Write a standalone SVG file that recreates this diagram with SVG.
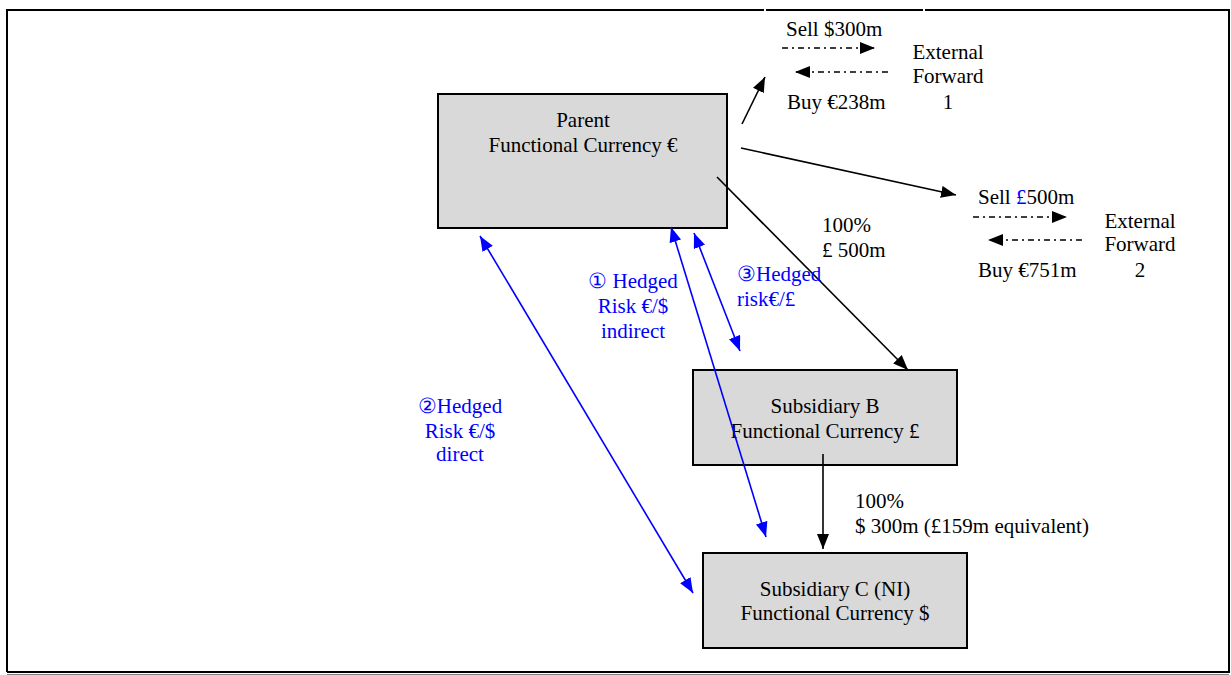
<svg xmlns="http://www.w3.org/2000/svg" width="1231" height="675" viewBox="0 0 1231 675">
<style>
text{font-family:"Liberation Serif","Times New Roman",serif;font-size:21px;fill:#000}
.b{fill:#0000ff}
.c{text-anchor:middle}
.box{fill:#d9d9d9;stroke:#000;stroke-width:2}
.k{stroke:#000;stroke-width:1.6;fill:none}
.bl{stroke:#0000ff;stroke-width:1.6;fill:none}
.dd{stroke:#000;stroke-width:1.5;stroke-dasharray:6 4 2 4;fill:none}
.frame{stroke:#000;stroke-width:2;fill:none}
</style>
<defs>
<marker id="ak" markerUnits="userSpaceOnUse" markerWidth="15" markerHeight="12" refX="15" refY="6" orient="auto-start-reverse"><path d="M0,0 L15,6 L0,12 z" fill="#000"/></marker>
<marker id="ab" markerUnits="userSpaceOnUse" markerWidth="15" markerHeight="12" refX="15" refY="6" orient="auto-start-reverse"><path d="M0,0 L15,6 L0,12 z" fill="#0000ff"/></marker>
</defs>
<rect width="1231" height="675" fill="#fff"/>
<g id="frame">
<path class="frame" d="M7,672 V10 H764 M766,10 H923 M925,10 H1229 V672 H7"/>
<path d="M7,675 H1229" stroke="#000" stroke-width="1"/>
</g>
<g id="parent">
<rect class="box" x="438" y="94" width="289" height="134"/>
<text class="c" x="583" y="127">Parent</text>
<text class="c" x="583" y="152">Functional Currency €</text>
</g>
<g id="subB">
<rect class="box" x="693" y="370" width="264" height="95"/>
<text class="c" x="825" y="413">Subsidiary B</text>
<text class="c" x="825" y="438">Functional Currency £</text>
</g>
<g id="subC">
<rect class="box" x="703" y="553" width="264" height="95"/>
<text class="c" x="835" y="596">Subsidiary C (NI)</text>
<text class="c" x="835" y="620">Functional Currency $</text>
</g>
<g id="forward1">
<text x="786" y="36">Sell $300m</text>
<text x="787" y="109">Buy €238m</text>
<text class="c" x="948" y="59">External</text>
<text class="c" x="948" y="83">Forward</text>
<text class="c" x="948" y="109">1</text>
</g>
<g id="forward2">
<text x="978" y="204">Sell <tspan class="b">£</tspan>500m</text>
<text x="978" y="277">Buy €751m</text>
<text class="c" x="1140" y="228">External</text>
<text class="c" x="1140" y="251">Forward</text>
<text class="c" x="1140" y="277">2</text>
</g>
<g id="connectors">
<line class="k" x1="742" y1="124" x2="765" y2="77" marker-end="url(#ak)"/>
<line class="k" x1="741" y1="148" x2="956" y2="195" marker-end="url(#ak)"/>
<line class="k" x1="717" y1="177" x2="908" y2="370" marker-end="url(#ak)"/>
<line class="k" x1="823" y1="454" x2="823" y2="549" marker-end="url(#ak)"/>
<line class="dd" x1="782" y1="48" x2="875" y2="48" marker-end="url(#ak)"/>
<line class="dd" x1="888" y1="72" x2="795" y2="72" marker-end="url(#ak)"/>
<line class="dd" x1="973" y1="217" x2="1067" y2="217" marker-end="url(#ak)"/>
<line class="dd" x1="1082" y1="240" x2="988" y2="240" marker-end="url(#ak)"/>
<line class="bl" x1="480" y1="236" x2="693" y2="593" marker-start="url(#ab)" marker-end="url(#ab)"/>
<line class="bl" x1="671" y1="227" x2="766" y2="537" marker-start="url(#ab)" marker-end="url(#ab)"/>
<line class="bl" x1="694" y1="233" x2="740" y2="351" marker-start="url(#ab)" marker-end="url(#ab)"/>
</g>
<g id="labels">
<text x="822" y="232">100%</text>
<text x="822" y="257">£ 500m</text>
<text x="855" y="508">100%</text>
<text x="855" y="533">$ 300m (£159m equivalent)</text>
<text class="b c" x="633" y="288">① Hedged</text>
<text class="b c" x="633" y="313">Risk €/$</text>
<text class="b c" x="633" y="338">indirect</text>
<text class="b" x="737" y="281">③Hedged</text>
<text class="b" x="737" y="306">risk€/£</text>
<text class="b c" x="460" y="413">②Hedged</text>
<text class="b c" x="460" y="438">Risk €/$</text>
<text class="b c" x="460" y="461">direct</text>
</g>
</svg>
